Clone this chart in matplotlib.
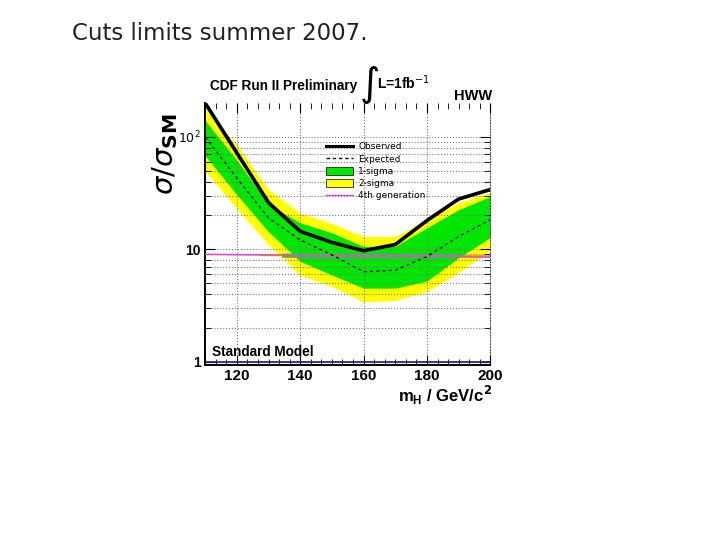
import matplotlib
matplotlib.use('Agg')
import matplotlib.pyplot as plt
from matplotlib.ticker import FixedLocator, NullFormatter
from matplotlib.patches import Patch
from matplotlib.lines import Line2D

# Higgs mass points (GeV/c^2) and limits on sigma/sigma_SM
mass = [110, 120, 130, 140, 150, 160, 170, 180, 190, 200]
observed = [200, 72, 26, 14.4, 11.5, 9.7, 11, 18, 28, 34]
expected = [100, 43, 19, 12.1, 8.9, 6.3, 6.5, 8.6, 13, 18.3]
sig1_lo = [68, 30.6, 14.3, 7.8, 5.9, 4.5, 4.5, 5.2, 8.4, 12.7]
sig1_hi = [140, 62, 25, 17.2, 14.0, 10.6, 10.6, 15.5, 22.5, 29.5]
sig2_lo = [50, 23, 11, 5.9, 4.67, 3.4, 3.5, 4.2, 6.2, 9.8]
sig2_hi = [180, 85, 34, 21, 17, 13, 13, 18.3, 26, 32]

# 4th generation prediction and overlaid lines
gen4_mass = [110, 200]
gen4_val = [9.0, 8.5]
orange_mass = [128, 200]
orange_val = [8.8, 8.7]
gray_mass = [135, 190]
gray_val = [8.75, 8.7]
sm_val = 1

ROOT = 'Liberation Sans'

fig = plt.figure(figsize=(7.2, 5.4), dpi=100)
fig.text(0.1, 0.925, 'Cuts limits summer 2007.', fontsize=16.5, color='#222222')

ax = fig.add_axes([0.285, 0.324, 0.396, 0.485])
ax.set_yscale('log')
ax.set_xlim(110, 200)
ax.set_ylim(0.93, 200)

ax.fill_between(mass, sig2_lo, sig2_hi, color='#ffff00', lw=0, zorder=1)
ax.fill_between(mass, sig1_lo, sig1_hi, color='#00e600', lw=0, zorder=2)
ax.plot(mass, expected, color='black', ls=(0, (2.5, 2.5)), lw=0.9, zorder=4)
ax.plot(mass, observed, color='black', lw=2.6, zorder=5)
ax.plot(gen4_mass, gen4_val, color='#d050d0', lw=1.2, zorder=3)
ax.plot(orange_mass, orange_val, color='#ff6a3d', lw=1.0, zorder=3)
ax.plot(gray_mass, gray_val, color='#888888', lw=3, zorder=3)
ax.axhline(sm_val, color='#1a1a80', lw=1.2, zorder=3)

# ticks and grid
ax.xaxis.set_major_locator(FixedLocator([120, 140, 160, 180, 200]))
ax.xaxis.set_minor_locator(FixedLocator([110 + i * 10 / 3 for i in range(28)]))
ax.yaxis.set_major_locator(FixedLocator([1, 10, 100]))
minors = [m * d for d in (1, 10) for m in range(2, 10)]
ax.yaxis.set_minor_locator(FixedLocator(minors))
ax.yaxis.set_minor_formatter(NullFormatter())
ax.set_xticklabels(['120', '140', '160', '180', '200'], fontsize=11,
                   fontweight='bold', family=ROOT)
ax.set_yticklabels(['1', '10', r'$10^2$'], fontsize=10, fontweight='bold', family=ROOT)
ax.get_yticklabels()[2].set_fontweight('normal')
ax.get_yticklabels()[2].set_fontsize(9)
ax.tick_params(which='both', direction='in', top=True, right=True, pad=3)
ax.tick_params(which='major', length=7, width=0.8)
ax.tick_params(which='minor', length=4, width=0.6)
ax.grid(True, which='major', axis='x', ls=':', color='#777777', lw=0.8)
ax.grid(True, which='both', axis='y', ls=':', color='#777777', lw=0.8)
ax.set_axisbelow(False)
ax.spines['top'].set_visible(False)
ax.spines['right'].set_linestyle(':')
ax.spines['right'].set_color('#555555')
ax.spines['left'].set_linewidth(1.4)
ax.spines['bottom'].set_linewidth(1.4)

ax.text(112, 1.12, 'Standard Model', fontsize=9.8, fontweight='bold',
        family=ROOT, zorder=6)

# titles in ROOT style
fig.text(0.292, 0.833, 'CDF Run II Preliminary', fontsize=9.8, fontweight='bold',
         family=ROOT)
fig.text(0.499, 0.823, r'$\int$', fontsize=20)
fig.text(0.524, 0.835, r'L=1fb$^{-1}$', fontsize=10, fontweight='bold', family=ROOT)
fig.text(0.683, 0.815, 'HWW', fontsize=10.5, fontweight='bold', ha='right',
         family=ROOT)
fig.text(0.209, 0.638, r'$\sigma/\sigma_{\mathbf{SM}}$', fontsize=21, rotation=90,
         va='bottom')
fig.text(0.683, 0.255, r'm$_\mathregular{H}$ / GeV/c$^\mathbf{2}$', fontsize=12,
         fontweight='bold', ha='right', family=ROOT)

handles = [Line2D([], [], color='black', lw=2.2),
           Line2D([], [], color='black', lw=1, ls=(0, (2.5, 2))),
           Patch(facecolor='#00e600', edgecolor='black', lw=0.5),
           Patch(facecolor='#ffff00', edgecolor='black', lw=0.5),
           Line2D([], [], color='#d050d0', lw=1)]
labels = ['Observed', 'Expected', '1-sigma', '2-sigma', '4th generation']
ax.legend(handles, labels, loc='upper left', bbox_to_anchor=(0.4, 0.875),
          frameon=False, fontsize=6.5, handlelength=3, handleheight=1.0,
          labelspacing=0.35, borderpad=0.2, handletextpad=0.6)

fig.savefig('out.png', dpi=100)
